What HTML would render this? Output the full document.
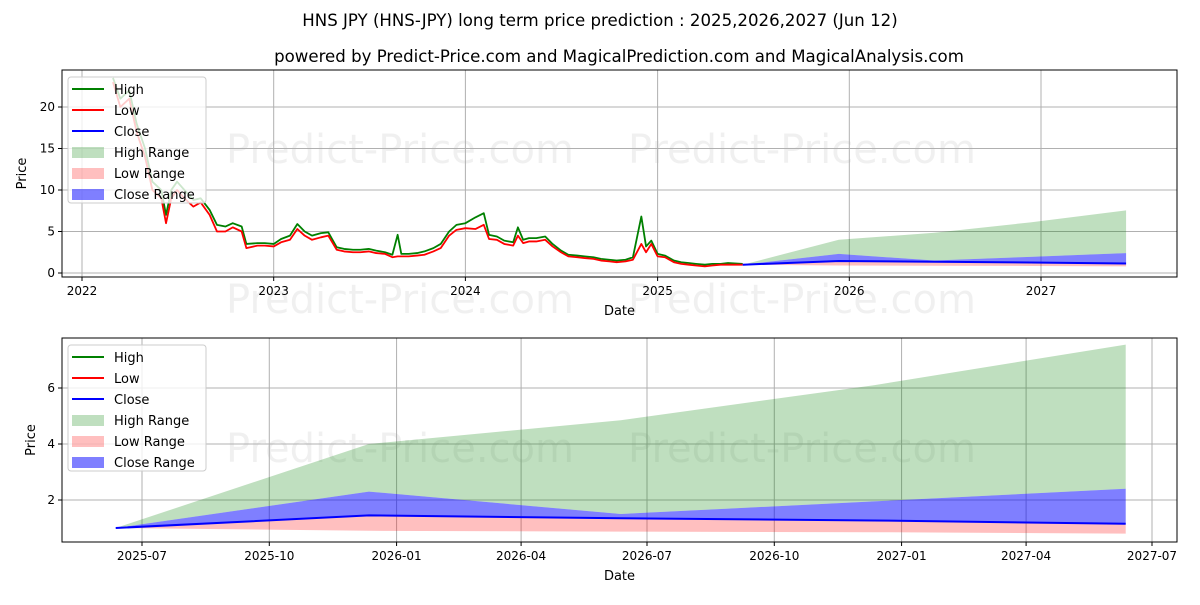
<!DOCTYPE html>
<html><head><meta charset="utf-8">
<style>
body{margin:0;background:#fff;font-family:"Liberation Sans","DejaVu Sans",sans-serif;}
svg text{font-family:"DejaVu Sans","Liberation Sans",sans-serif;}
</style></head>
<body>
<svg id="c" width="1200" height="600" xmlns="http://www.w3.org/2000/svg"></svg>
<script>
const histDates=["2022-03-01","2022-03-15","2022-04-01","2022-04-15","2022-05-01","2022-05-15","2022-06-01","2022-06-10","2022-06-20","2022-07-01","2022-07-15","2022-08-01","2022-08-15","2022-09-01","2022-09-15","2022-10-01","2022-10-15","2022-11-01","2022-11-10","2022-12-01","2022-12-15","2023-01-01","2023-01-15","2023-02-01","2023-02-15","2023-03-01","2023-03-15","2023-04-01","2023-04-15","2023-05-01","2023-05-15","2023-06-01","2023-06-15","2023-07-01","2023-07-15","2023-08-01","2023-08-15","2023-08-25","2023-09-01","2023-09-15","2023-10-01","2023-10-15","2023-11-01","2023-11-15","2023-12-01","2023-12-15","2024-01-01","2024-01-20","2024-02-05","2024-02-15","2024-03-01","2024-03-15","2024-04-01","2024-04-10","2024-04-20","2024-05-01","2024-05-15","2024-06-01","2024-06-15","2024-07-01","2024-07-15","2024-08-01","2024-08-15","2024-09-01","2024-09-15","2024-10-01","2024-10-15","2024-11-01","2024-11-15","2024-12-01","2024-12-10","2024-12-20","2025-01-01","2025-01-15","2025-02-01","2025-02-15","2025-03-01","2025-03-15","2025-04-01","2025-04-15","2025-05-01","2025-05-15","2025-06-12"];
const histLow=[23,20,21,17,14,10,9,6,9,10,9,8,8.5,7,5,5,5.5,5,3,3.3,3.3,3.2,3.7,4,5.3,4.5,4,4.3,4.5,2.8,2.6,2.5,2.5,2.6,2.4,2.3,1.9,2.0,2,2,2.1,2.2,2.6,3,4.5,5.2,5.4,5.3,5.8,4.1,4,3.5,3.3,4.5,3.6,3.8,3.8,4,3.2,2.5,2,1.9,1.8,1.7,1.5,1.4,1.3,1.4,1.6,3.5,2.5,3.5,2,1.9,1.3,1.1,1,0.9,0.8,0.9,1,1,1];
const histHigh=[23.5,21,22,18,15,11,10,7,10,11,10,8.8,9,7.6,5.8,5.6,6,5.6,3.5,3.6,3.6,3.5,4.1,4.5,5.9,5,4.5,4.8,4.9,3.1,2.9,2.8,2.8,2.9,2.7,2.5,2.2,4.6,2.3,2.3,2.4,2.6,3.0,3.5,5,5.8,6,6.7,7.2,4.6,4.4,3.9,3.7,5.5,4,4.2,4.2,4.4,3.5,2.7,2.2,2.1,2,1.9,1.7,1.6,1.5,1.6,1.9,6.8,3.2,3.9,2.3,2.1,1.5,1.3,1.2,1.1,1,1.1,1.1,1.2,1.1];
const predDates=["2025-06-12","2025-12-12","2026-06-12","2026-12-12","2027-06-12"];
const predHighRange=[1.0,4.0,4.85,6.1,7.55];
const predCloseUpper=[1.0,2.3,1.5,1.95,2.4];
const predClose=[1.0,1.45,1.35,1.27,1.15];
const predLowRange=[1.0,0.9,0.87,0.85,0.8];
const yearTicks=["2022","2023","2024","2025","2026","2027"];
const monthTicks=["2025-07","2025-10","2026-01","2026-04","2026-07","2026-10","2027-01","2027-04","2027-07"];
const topYTicks=[0,5,10,15,20];
const botYTicks=[2,4,6];

const NS="http://www.w3.org/2000/svg";
const svg=document.getElementById('c');
function el(tag,attrs,parent){const e=document.createElementNS(NS,tag);for(const k in attrs)e.setAttribute(k,attrs[k]);(parent||svg).appendChild(e);return e;}
function day(s){return Date.parse(s+(s.length===7?"-01":"")+"T00:00:00Z")/86400000;}

const T={x0:62,x1:1177,y0:70,y1:277,d0:day("2022-01-01"),d1:day("2027-01-01"),px0:82,px1:1041,v0:0,v1:20,py0:273,py1:107};
const B={x0:62,x1:1177,y0:338,y1:542,d0:day("2025-07-01"),d1:day("2027-07-01"),px0:142,px1:1152,v0:2,v1:6,py0:500,py1:388};
function X(a,d){return a.px0+(day(d)-a.d0)/(a.d1-a.d0)*(a.px1-a.px0);}
function Y(a,v){return a.py0+(v-a.v0)/(a.v1-a.v0)*(a.py1-a.py0);}

function t(x,y,s,sz,anchor,parent,name,extra){const e=el('text',Object.assign({x:x,y:y,'font-size':sz,'text-anchor':anchor||'middle',fill:'#000'},extra||{}),parent);e.textContent=s;return e;}

t(600,26,"HNS JPY (HNS-JPY) long term price prediction : 2025,2026,2027 (Jun 12)",16.6,'middle',svg,'chart-title');
t(619,62,"powered by Predict-Price.com and MagicalPrediction.com and MagicalAnalysis.com",16.6,'middle',svg,'chart-subtitle');

function panel(a,name,xt,xfmt,yt,histo){
  const g=el('g',{});
  const wy=a===T?163:462;
  t(400,wy,"Predict-Price.com",40,'middle',g,'watermark',{fill:'#000','fill-opacity':'0.06'});
  t(802,wy,"Predict-Price.com",40,'middle',g,'watermark',{fill:'#000','fill-opacity':'0.06'});
  if(a===T){t(400,313,"Predict-Price.com",40,'middle',g,'watermark',{fill:'#000','fill-opacity':'0.06'});t(802,313,"Predict-Price.com",40,'middle',g,'watermark',{fill:'#000','fill-opacity':'0.06'});}
  xt.forEach(s=>{const x=X(a,s);const l=el('line',{x1:x,x2:x,y1:a.y0,y2:a.y1,stroke:'#b0b0b0','stroke-width':1},g);
    el('line',{x1:x,x2:x,y1:a.y1,y2:a.y1+4,stroke:'#000'},g);t(x,a.y1+18,xfmt(s),12,'middle',g,'x-tick-label');});
  yt.forEach(v=>{const y=Y(a,v);const l=el('line',{x1:a.x0,x2:a.x1,y1:y,y2:y,stroke:'#b0b0b0','stroke-width':1},g);
    el('line',{x1:a.x0-4,x2:a.x0,y1:y,y2:y,stroke:'#000'},g);t(a.x0-7,y+4,String(v),12,'end',g,'y-tick-label');});
  function area(up,lo,fill,op,nm){let d='';predDates.forEach((s,i)=>{d+=(i?'L':'M')+X(a,s)+','+Y(a,up[i]);});for(let i=predDates.length-1;i>=0;i--)d+='L'+X(a,predDates[i])+','+Y(a,lo[i]);const p=el('path',{d:d+'Z',fill:fill,'fill-opacity':op},g);}
  area(predHighRange,predCloseUpper,'#008000',0.25,'high-range-area');
  area(predClose,predLowRange,'#ff0000',0.25,'low-range-area');
  area(predCloseUpper,predClose,'#0000ff',0.5,'close-range-area');
  function line(ds,vs,col,w,nm){const p=el('polyline',{points:ds.map((s,i)=>X(a,s)+','+Y(a,vs[i])).join(' '),fill:'none',stroke:col,'stroke-width':w,'stroke-linejoin':'round'},g);}
  if(histo){line(histDates,histHigh,'#008000',1.8,'high-line');line(histDates,histLow,'#ff0000',1.8,'low-line');}
  line(predDates,predClose,'#0000ff',2,'close-line');
  const r=el('rect',{x:a.x0,y:a.y0,width:a.x1-a.x0,height:a.y1-a.y0,fill:'none',stroke:'#000','stroke-width':1},g);
  t((a.x0+a.x1)/2,a.y1+38,"Date",13,'middle',g,'x-axis-title');
  const yl=t(0,0,"Price",13,'middle',g,'y-axis-title');yl.setAttribute('transform','translate('+(a===T?26:35)+','+((a.y0+a.y1)/2)+') rotate(-90)');
  const lg=el('g',{},g);
  const ly=a.y0+7;
  el('rect',{x:68,y:ly,width:138,height:126,fill:'#fff','fill-opacity':0.8,stroke:'#ccc',rx:3},lg);
  const items=[['High','#008000','l'],['Low','#ff0000','l'],['Close','#0000ff','l'],['High Range','rgba(0,128,0,0.25)','p'],['Low Range','rgba(255,0,0,0.25)','p'],['Close Range','rgba(0,0,255,0.5)','p']];
  items.forEach((it,i)=>{const y=ly+12+i*21;const e=el('g',{},lg);
    if(it[2]==='l')el('line',{x1:72,x2:104,y1:y,y2:y,stroke:it[1],'stroke-width':2},e);else el('rect',{x:72,y:y-5,width:32,height:11,fill:it[1]},e);
    t(114,y+5,it[0],13,'start',e,'legend-label');});
}
panel(T,'top-panel',yearTicks,s=>s,topYTicks,true);
panel(B,'bottom-panel',monthTicks,s=>s,botYTicks,false);
</script>
</body></html>
